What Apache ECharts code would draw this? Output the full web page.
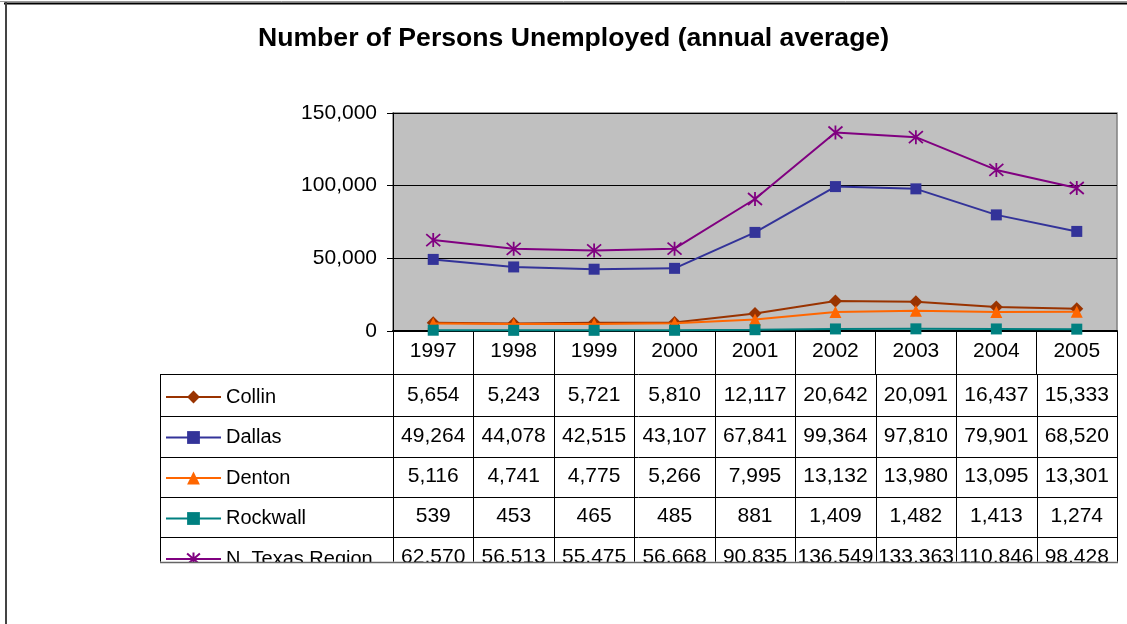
<!DOCTYPE html>
<html>
<head>
<meta charset="utf-8">
<title>Number of Persons Unemployed</title>
<script src="https://cdn.jsdelivr.net/npm/echarts@6/dist/echarts.min.js"></script>
<style>
  html, body { margin: 0; padding: 0; background: #fff; }
  #main { width: 1127px; height: 624px; }
</style>
</head>
<body>
<div id="main"></div>
<script>
// data
var years = ["1997", "1998", "1999", "2000", "2001", "2002", "2003", "2004", "2005"];
var names = ["Collin", "Dallas", "Denton", "Rockwall", "N. Texas Region"];
var collin = [5654, 5243, 5721, 5810, 12117, 20642, 20091, 16437, 15333];
var dallas = [49264, 44078, 42515, 43107, 67841, 99364, 97810, 79901, 68520];
var denton = [5116, 4741, 4775, 5266, 7995, 13132, 13980, 13095, 13301];
var rockwall = [539, 453, 465, 485, 881, 1409, 1482, 1413, 1274];
var ntexas = [62570, 56513, 55475, 56668, 90835, 136549, 133363, 110846, 98428];
var yTicks = [0, 50000, 100000, 150000];

var rows = [collin, dallas, denton, rockwall, ntexas];
var colors = ["#993300", "#333399", "#FF6600", "#008080", "#800080"];
var symbols = ["diamond", "rect", "triangle", "rect", "path://M0,0L12,12M12,0L0,12M6,-1L6,13"];
var sizes = [13, 11, 12, 11, 14];

var FONT = "Liberation Sans, Arial, sans-serif";

// plot area (px)
var plotL = 393, plotR = 1117, plotT = 113, plotB = 331;
var colW = (plotR - plotL) / years.length;
// table rows
var rowLines = [374, 416, 456.7, 496.7, 536.7];
var tableBottom = 561.7;
var tableLeft = 160;

function fmt(v) {
  return v.toLocaleString("en-US");
}

var chartDom = document.getElementById("main");
var myChart = echarts.init(chartDom);

var series = names.map(function (n, i) {
  return {
    name: n,
    type: "line",
    data: rows[i],
    symbol: symbols[i],
    symbolSize: sizes[i],
    lineStyle: { color: colors[i], width: 2 },
    itemStyle: {
      color: i === 4 ? "transparent" : colors[i],
      borderColor: colors[i],
      borderWidth: i === 4 ? 1.8 : 0
    },
    emphasis: { disabled: true },
    z: 3 + i
  };
});

// table graphics
var g = [];
function line(x1, y1, x2, y2, color, w, z) {
  g.push({
    type: "line",
    shape: { x1: x1, y1: y1, x2: x2, y2: y2 },
    style: { stroke: color || "#000", lineWidth: w || 1 },
    z: z || 10,
    silent: true
  });
}
rowLines.forEach(function (y) {
  var yy = Math.round(y) + 0.5;
  line(tableLeft, yy, plotR, yy, "#000", 1);
});
line(tableLeft + 0.5, rowLines[0], tableLeft + 0.5, tableBottom);
for (var c = 0; c <= years.length; c++) {
  var xx = Math.round(plotL + c * colW) + 0.5;
  line(xx, rowLines[0], xx, tableBottom);
}
rows.forEach(function (arr, r) {
  var y0 = rowLines[r];
  var y1 = r + 1 < rowLines.length ? rowLines[r + 1] : 578;
  var cy = (y0 + y1) / 2;
  arr.forEach(function (v, c) {
    g.push({
      type: "text",
      x: plotL + (c + 0.5) * colW,
      y: cy,
      style: {
        text: fmt(v),
        font: "21px " + FONT,
        fill: "#000",
        align: "center",
        verticalAlign: "middle"
      },
      z: 10,
      silent: true
    });
  });
});
// table is cut off at the bottom of the chart area
g.push({
  type: "rect",
  shape: { x: 8, y: Math.round(tableBottom) + 1, width: 1119, height: 80 },
  style: { fill: "#fff" },
  z: 50,
  silent: true
});
line(tableLeft, Math.round(tableBottom) + 0.5, plotR + 1, Math.round(tableBottom) + 0.5, "#666", 1.5, 60);
// outer frame
line(0, 1.5, 1127, 1.5, "#999", 1, 60);
line(4, 3.5, 1127, 3.5, "#000", 2, 60);
line(6, 2, 6, 624, "#444", 2, 60);

var option = {
  animation: false,
  backgroundColor: "#fff",
  title: {
    text: "Number of Persons Unemployed (annual average)",
    left: 258,
    top: 25,
    padding: 0,
    textStyle: { fontFamily: FONT, fontSize: 26.6, fontWeight: "bold", color: "#000" }
  },
  legend: {
    data: names,
    orient: "vertical",
    left: 165,
    top: 387,
    padding: 0,
    itemWidth: 55,
    itemHeight: 16,
    itemGap: 20.5,
    selectedMode: false,
    textStyle: { fontFamily: FONT, fontSize: 20, lineHeight: 20, color: "#000" }
  },
  grid: {
    left: plotL,
    right: 1127 - plotR,
    top: plotT,
    bottom: 624 - plotB,
    show: true,
    backgroundColor: "#C0C0C0",
    borderColor: "#808080",
    borderWidth: 1.5
  },
  xAxis: {
    type: "category",
    data: years,
    boundaryGap: true,
    axisLine: { show: true, lineStyle: { color: "#000", width: 2 } },
    axisTick: { show: true, interval: 0, length: 43, lineStyle: { color: "#000", width: 1 } },
    axisLabel: { fontFamily: FONT, fontSize: 21, color: "#000", margin: 10, interval: 0 },
    splitLine: { show: false }
  },
  yAxis: {
    type: "value",
    min: yTicks[0],
    max: yTicks[yTicks.length - 1],
    interval: yTicks[1] - yTicks[0],
    axisLine: { show: true, lineStyle: { color: "#000", width: 1 } },
    axisTick: { show: true, length: 6, lineStyle: { color: "#000" } },
    axisLabel: {
      fontFamily: FONT,
      fontSize: 21,
      color: "#000",
      margin: 16,
      formatter: function (v) { return fmt(v); }
    },
    splitLine: { show: true, lineStyle: { color: "#000", width: 1 } }
  },
  series: series,
  graphic: { elements: g }
};

option && myChart.setOption(option);
</script>
</body>
</html>
